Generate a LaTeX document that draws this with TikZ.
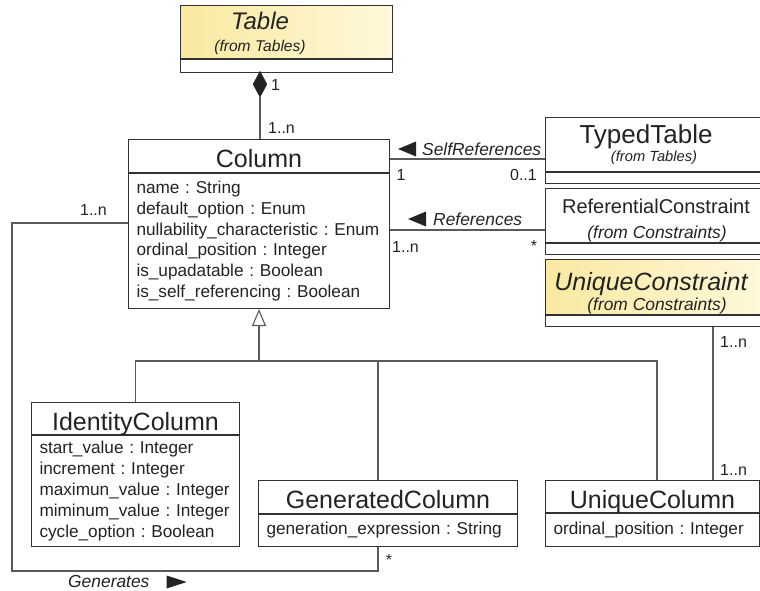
\documentclass[tikz,border=0pt]{standalone}
\usepackage{fontspec}
\setmainfont{Liberation Sans}
\usepackage{xcolor}
\usetikzlibrary{arrows.meta,positioning,shapes.geometric,calc}
\definecolor{umlink}{RGB}{35,35,35}
\definecolor{umlline}{RGB}{50,50,50}
\definecolor{umlwire}{RGB}{90,90,90}
\definecolor{umlyellow}{RGB}{249,233,160}
\definecolor{umlpale}{RGB}{255,248,218}
\newcommand{\fsz}[1]{\fontsize{#1}{#1}\selectfont}
\frenchspacing
\hyphenpenalty=10000

\begin{document}
\begin{tikzpicture}[x=1pt,y=-1pt,>=Latex,
  every node/.style={text=umlink,font=\fsz{17}},
  box/.style={draw=umlline,line width=1pt,anchor=north west,inner sep=0pt},
  classname/.style={box,font=\fsz{25},text height=23,text depth=0},
  attrbox/.style={box,align=left,inner xsep=8pt,font=\fontsize{17.2}{20.8}\selectfont},
  yellowfill/.style={left color=umlyellow,right color=umlpale},
  wire/.style={draw=umlwire,line width=1.1pt},
  mult/.style={inner sep=0pt,font=\fsz{16}},
  role/.style={inner sep=0pt,font=\fsz{17.4}\itshape}]
\useasboundingbox (0,0) rectangle (760,591);
\clip (0,0) rectangle (760,591);

\node[box,yellowfill,minimum width=212,minimum height=53] (tblname) at (180,5) {};
\node[box,minimum width=212,minimum height=13] (tblattr) at (tblname.south west) {};
\node[anchor=base,font=\fsz{24}\itshape] (tbltitle) at (260,30) {Table};
\node[anchor=base,font=\fsz{15.6}\itshape] (tblfrom) at (260,51.5) {(from Tables)};

\node[diamond,fill=umlink,draw=umlink,inner sep=0pt,minimum width=14,minimum height=26,anchor=north] (comp) at (260,71) {};

\node[classname,minimum width=261,minimum height=33] (colname) at (128,139) {Column};
\node[attrbox,text width=245,minimum height=135] (colattr) at (colname.south west)
  {name : String\\default\_option : Enum\\nullability\_characteristic : Enum\\ordinal\_position : Integer\\is\_upadatable : Boolean\\is\_self\_referencing : Boolean};

\node[box,minimum width=217,minimum height=54] (ttname) at (545,117) {};
\node[box,minimum width=217,minimum height=11] (ttattr) at (ttname.south west) {};
\node[anchor=base,font=\fsz{26}] (tttitle) at (646,143) {TypedTable};
\node[anchor=base,font=\fsz{14.7}\itshape] (ttfrom) at (654,161) {(from Tables)};

\node[box,minimum width=217,minimum height=54] (rcname) at (545,188) {};
\node[box,minimum width=217,minimum height=11] (rcattr) at (rcname.south west) {};
\node[anchor=base,font=\fsz{20}] (rctitle) at (656,213) {ReferentialConstraint};
\node[anchor=base,font=\fsz{17.4}\itshape] (rcfrom) at (657,238.5) {(from Constraints)};

\node[box,yellowfill,minimum width=217,minimum height=55] (ucname) at (545,259) {};
\node[box,minimum width=217,minimum height=11] (ucattr) at (ucname.south west) {};
\node[anchor=base,font=\fsz{25}\itshape] (uctitle) at (651,290) {UniqueConstraint};
\node[anchor=base,font=\fsz{17.4}\itshape] (ucfrom) at (657,310) {(from Constraints)};

\node[classname,minimum width=208,minimum height=32] (idname) at (31,402) {IdentityColumn};
\node[attrbox,text width=192,minimum height=111,font=\fontsize{17.2}{21.2}\selectfont] (idattr) at (idname.south west)
  {start\_value : Integer\\increment : Integer\\maximun\_value : Integer\\miminum\_value : Integer\\cycle\_option : Boolean};

\node[classname,minimum width=259,minimum height=33] (genname) at (258,480) {GeneratedColumn};
\node[attrbox,text width=243,minimum height=32] (genattr) at (genname.south west) {generation\_expression : String};

\node[classname,minimum width=214,minimum height=32] (uqname) at (545,480) {UniqueColumn};
\node[attrbox,text width=198,minimum height=33] (uqattr) at (uqname.south west) {ordinal\_position : Integer};

\coordinate (selfy) at (0,159);
\coordinate (refy) at (0,230);
\coordinate (bus) at (0,361);
\coordinate (gensy) at (0,223);
\coordinate (genbot) at (0,571);
\coordinate (leftx) at (12,0);
\coordinate (gendrop) at (378,0);
\coordinate (uqdrop) at (657,0);
\coordinate (ucx) at (713,0);

\draw[wire] (comp.south) -- (comp.south |- colname.north);
\node[mult,anchor=west] (m1) at (271,85) {1};
\node[mult,anchor=west] (m2) at (268,128) {1..n};

\draw[wire] (colname.east |- selfy) -- (ttname.west |- selfy);
\node[role,anchor=west] (selfref) at (422,149) {SelfReferences};
\fill[umlink] ([xshift=-24pt]selfref.west) -- ++(18,-7.5) -- ++(0,15) -- cycle;
\node[mult] (s1) at (401,175) {1};
\node[mult,anchor=east] (s2) at (537,175) {0..1};

\draw[wire] (colattr.east |- refy) -- (rcname.west |- refy);
\node[role,anchor=west] (refs) at (433,219) {References};
\fill[umlink] ([xshift=-25pt]refs.west) -- ++(18,-7.5) -- ++(0,15) -- cycle;
\node[mult,anchor=west] (r1) at (392,247) {1..n};
\node[mult] (r2) at (534,246) {*};

\draw[wire,-{Triangle[open,length=17pt,width=14pt]}] (colattr.south |- bus) -- (colattr.south);
\draw[wire] (idname.north) |- (uqdrop |- bus) -- (uqdrop |- uqname.north);
\draw[wire] (gendrop |- bus) -- (gendrop |- genname.north);

\draw[wire] (colattr.west |- gensy) -| (leftx |- genbot) -- (gendrop |- genbot) -- (gendrop |- genattr.south);
\node[mult,anchor=east] (g1) at (107,210) {1..n};
\node[mult] (g2) at (389,560) {*};
\node[role,anchor=west] (gens) at (68,582) {Generates};
\fill[umlink] ([xshift=17pt]gens.east) -- ++(0,-6.5) -- ++(20,6.5) -- ++(-20,6.5) -- cycle;

\draw[wire] (ucx |- ucattr.south) -- (ucx |- uqname.north);
\node[mult,anchor=west] (u1) at (720,342) {1..n};
\node[mult,anchor=west] (u2) at (720,470) {1..n};
\end{tikzpicture}
\end{document}
